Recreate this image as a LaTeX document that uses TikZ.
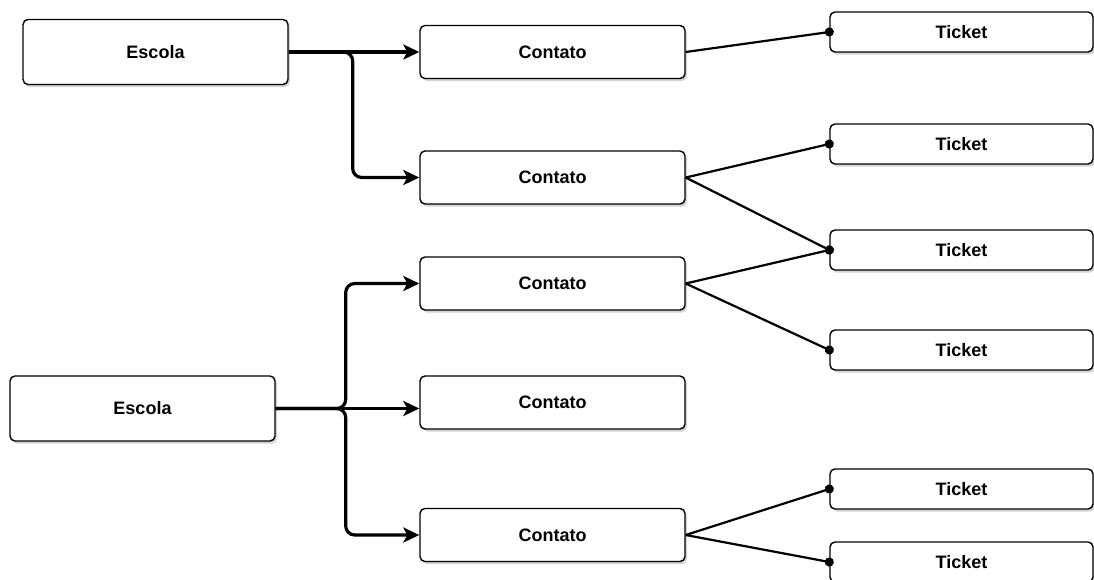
\documentclass[tikz,border=0pt]{standalone}
\usepackage{fontspec}
\setmainfont{Liberation Sans}
\usetikzlibrary{shadows,arrows.meta}
\begin{document}
\begin{tikzpicture}[x=1pt,y=-1pt,
    box/.style={draw,rounded corners=5pt,fill=white,line width=1.4pt,inner sep=0pt,
      font=\bfseries\fontsize{18}{21}\selectfont,
      drop shadow={shadow xshift=2pt,shadow yshift=-2.5pt,opacity=0.35}},
    escola/.style={box,minimum width=265pt,minimum height=65pt},
    contato/.style={box,minimum width=265pt,minimum height=53pt},
    ticket/.style={box,minimum width=263pt,minimum height=40pt},
    flow/.style={line width=3.2pt,rounded corners=9pt,-{Stealth[length=16pt,width=15pt,inset=4pt]}},
    link/.style={line width=2.2pt,-{Circle[length=9pt]},shorten >=-4.5pt}]
      \useasboundingbox (0,0) rectangle (1094,579);
      \node[escola] (e1) at (155.5,52) {Escola};
      \node[escola] (e2) at (142.5,408.5) {Escola};
      \node[contato] (c1) at (552.5,52) {Contato};
      \node[contato] (c2) at (552.5,177.5) {Contato};
      \node[contato] (c3) at (552.5,283.5) {Contato};
      \node[contato] (c4) at (552.5,402.5) {Contato};
      \node[contato] (c5) at (552.5,535) {Contato};
      \node[ticket] (t1) at (961.5,32) {Ticket};
      \node[ticket] (t2) at (961.5,144) {Ticket};
      \node[ticket] (t3) at (961.5,250) {Ticket};
      \node[ticket] (t4) at (961.5,350) {Ticket};
      \node[ticket] (t5) at (961.5,489) {Ticket};
      \node[ticket] (t6) at (961.5,562) {Ticket};
      \draw[flow] (e1.east) -- (e1.east -| c1.west);
      \draw[flow] (e1.east) -- ++(64,0) |- (c2.west);
      \draw[flow] (e2.east) -- ++(70,0) |- (c3.west);
      \draw[flow] (e2.east) -- (e2.east -| c4.west);
      \draw[flow] (e2.east) -- ++(70,0) |- (c5.west);
      \draw[link] (c1.east) -- (t1.west);
      \draw[link] (c2.east) -- (t2.west);
      \draw[link] (c2.east) -- (t3.west);
      \draw[link] (c3.east) -- (t3.west);
      \draw[link] (c3.east) -- (t4.west);
      \draw[link] (c5.east) -- (t5.west);
      \draw[link] (c5.east) -- (t6.west);
    \end{tikzpicture}
\end{document}
